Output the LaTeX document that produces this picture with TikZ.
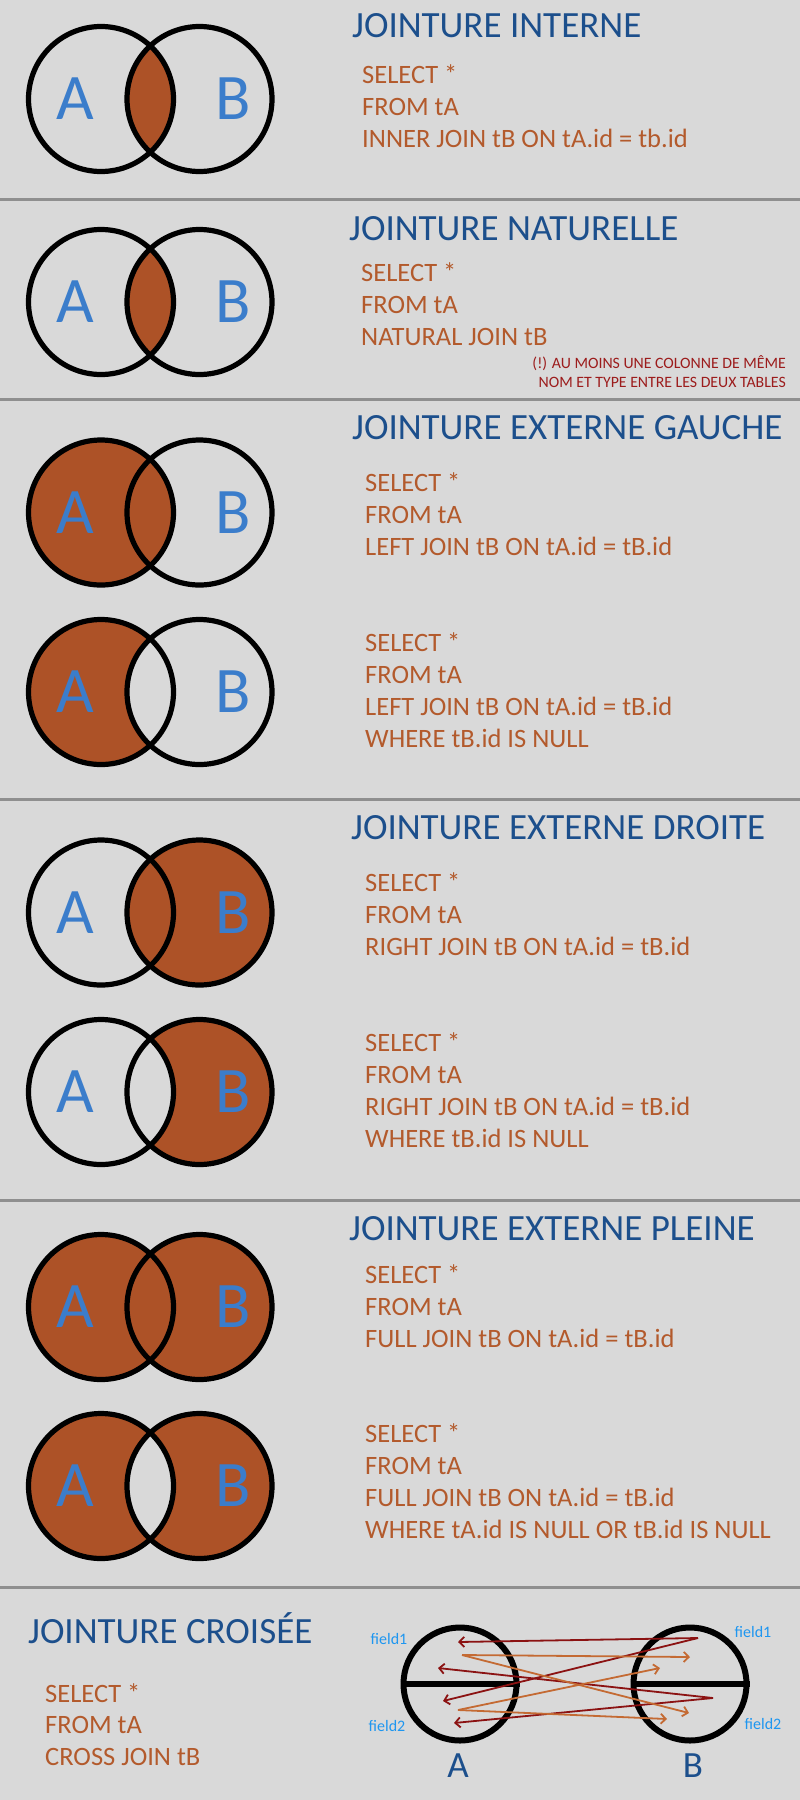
\documentclass[tikz,border=0pt]{standalone}
\usepackage{fontspec}
\setmainfont{Carlito}
\usetikzlibrary{arrows.meta}
\definecolor{bg}{HTML}{D9D9D9}
\definecolor{rule}{HTML}{8F8F8F}
\definecolor{navy}{HTML}{1C4F8C}
\definecolor{sky}{HTML}{3B7DCB}
\definecolor{rust}{HTML}{AD5227}
\definecolor{sqltext}{HTML}{B35A2C}
\definecolor{warn}{HTML}{9C1C1C}
\definecolor{fieldblue}{HTML}{1E96F0}
\definecolor{darkred}{HTML}{8B1212}
\definecolor{orange}{HTML}{C46A33}
\newcommand{\rr}{72.5}
\newcommand{\vennpair}[3]{%
  \coordinate (#1a) at (101,#2);
  \coordinate (#1b) at (199.5,#2);
  \begin{scope}#3\end{scope}
  \draw[ring] (#1a) circle[radius=\rr];
  \draw[ring] (#1b) circle[radius=\rr];
  \node[setname] (#1-A) at (75,#2) {A};
  \node[setname] (#1-B) at (233,#2) {B};
}
\newcommand{\sqlcode}[4]{%
  \foreach \sqlline [count=\i] in {#4}
    \node[sql] (#1-\i) at (#2,{#3+32*(\i-1)}) {\sqlline};
}
\tikzset{
  ring/.style={draw=black,line width=5.2pt},
  joinfill/.style={fill=rust},
  setname/.style={inner sep=0pt,font=\fontsize{65}{70}\selectfont,text=sky},
  heading/.style={anchor=base west,inner sep=0pt,font=\fontsize{37}{44}\selectfont,text=navy},
  sql/.style={anchor=base west,inner sep=0pt,font=\fontsize{26.5}{32}\selectfont,text=sqltext},
  warnnote/.style={anchor=base east,inner sep=0pt,font=\fontsize{15.8}{19}\selectfont,text=warn},
  divider/.style={draw=rule,line width=3pt},
  xring/.style={circle,draw=black,line width=6pt,minimum size=113pt,inner sep=0pt},
  midbar/.style={draw=black,line width=5.5pt},
  fieldlabel/.style={inner sep=0pt,font=\fontsize{16}{19}\selectfont,text=fieldblue},
  crossname/.style={anchor=base,inner sep=0pt,font=\fontsize{37}{44}\selectfont,text=navy},
  pull/.style={draw=darkred,line width=1.8pt,-{Straight Barb[length=5pt,width=10pt]}},
  push/.style={draw=orange,line width=1.8pt,-{Straight Barb[length=5pt,width=10pt]}}
}
\begin{document}
\begin{tikzpicture}[x=1pt,y=-1pt]
  \useasboundingbox (0,0) rectangle (800,1800);
  \fill[bg] (0,0) rectangle (800,1800);
  \foreach \yy in {199,399,799,1200,1587}
    \draw[divider] (0,\yy) -- (800,\yy);

  \vennpair{v1}{99}{\clip (v1a) circle[radius=\rr]; \fill[joinfill] (v1b) circle[radius=\rr];}
  \node[heading] (t1) at (352,37) {JOINTURE INTERNE};
  \sqlcode{q1}{362}{83}{SELECT *, FROM tA, INNER JOIN tB ON tA.id = tb.id}

  \vennpair{v2}{302}{\clip (v2a) circle[radius=\rr]; \fill[joinfill] (v2b) circle[radius=\rr];}
  \node[heading] (t2) at (349,240) {JOINTURE NATURELLE};
  \sqlcode{q2}{361}{281}{SELECT *, FROM tA, NATURAL JOIN tB}
  \node[warnnote] (n1) at (786,368) {(!) AU MOINS UNE COLONNE DE MÊME};
  \node[warnnote] (n2) at (786,387) {NOM ET TYPE ENTRE LES DEUX TABLES};

  \vennpair{v3}{512.5}{\fill[joinfill] (v3a) circle[radius=\rr];}
  \vennpair{v4}{692}{\clip (v4a) circle[radius=\rr]; \fill[joinfill,even odd rule] (v4a) circle[radius=\rr] (v4b) circle[radius=\rr];}
  \node[heading] (t3) at (352,439) {JOINTURE EXTERNE GAUCHE};
  \sqlcode{q3}{365}{491}{SELECT *, FROM tA, LEFT JOIN tB ON tA.id = tB.id}
  \sqlcode{q4}{365}{651}{SELECT *, FROM tA, LEFT JOIN tB ON tA.id = tB.id, WHERE tB.id IS NULL}

  \vennpair{v5}{912.5}{\fill[joinfill] (v5b) circle[radius=\rr];}
  \vennpair{v6}{1092}{\clip (v6b) circle[radius=\rr]; \fill[joinfill,even odd rule] (v6a) circle[radius=\rr] (v6b) circle[radius=\rr];}
  \node[heading] (t4) at (351,839) {JOINTURE EXTERNE DROITE};
  \sqlcode{q5}{365}{891}{SELECT *, FROM tA, RIGHT JOIN tB ON tA.id = tB.id}
  \sqlcode{q6}{365}{1051}{SELECT *, FROM tA, RIGHT JOIN tB ON tA.id = tB.id, WHERE tB.id IS NULL}

  \vennpair{v7}{1307}{\fill[joinfill] (v7a) circle[radius=\rr] (v7b) circle[radius=\rr];}
  \vennpair{v8}{1486}{\fill[joinfill,even odd rule] (v8a) circle[radius=\rr] (v8b) circle[radius=\rr];}
  \node[heading] (t5) at (349,1240) {JOINTURE EXTERNE PLEINE};
  \sqlcode{q7}{365}{1283}{SELECT *, FROM tA, FULL JOIN tB ON tA.id = tB.id}
  \sqlcode{q8}{365}{1442}{SELECT *, FROM tA, FULL JOIN tB ON tA.id = tB.id, WHERE tA.id IS NULL OR tB.id IS NULL}

  \node[heading] (t6) at (28,1643) {JOINTURE CROISÉE};
  \foreach \sqlline/\yy [count=\i] in {SELECT */1702, FROM tA/1733.5, CROSS JOIN tB/1765}
    \node[sql] (q9-\i) at (45,\yy) {\sqlline};

  \node[xring] (ca) at (460,1684) {};
  \node[xring] (cb) at (690,1684) {};
  \draw[midbar] (ca.west) -- (ca.east);
  \draw[midbar] (cb.west) -- (cb.east);
  \node[crossname] (la) at (458,1777) {A};
  \node[crossname] (lb) at (693,1777) {B};
  \node[fieldlabel] (fa1) at (389,1639) {field1};
  \node[fieldlabel] (fa2) at (387,1726) {field2};
  \node[fieldlabel] (fb1) at (753,1632) {field1};
  \node[fieldlabel] (fb2) at (763,1724) {field2};

  \coordinate (bTop) at (698,1638);
  \coordinate (bLow) at (713,1698);
  \coordinate (aTop) at (462,1655);
  \coordinate (aLow) at (458,1710);
  \coordinate (a1) at (458,1642);
  \coordinate (a2) at (438,1668);
  \coordinate (a3) at (443,1701);
  \coordinate (a4) at (454,1723);
  \coordinate (b1) at (690,1657);
  \coordinate (b2) at (660,1668);
  \coordinate (b3) at (689,1713);
  \coordinate (b4) at (667,1719);
  \draw[pull] (bTop) -- (a1);
  \draw[pull] (bTop) -- (a3);
  \draw[pull] (bLow) -- (a2);
  \draw[pull] (bLow) -- (a4);
  \draw[push] (aTop) -- (b1);
  \draw[push] (aTop) -- (b3);
  \draw[push] (aLow) -- (b2);
  \draw[push] (aLow) -- (b4);
\end{tikzpicture}
\end{document}
